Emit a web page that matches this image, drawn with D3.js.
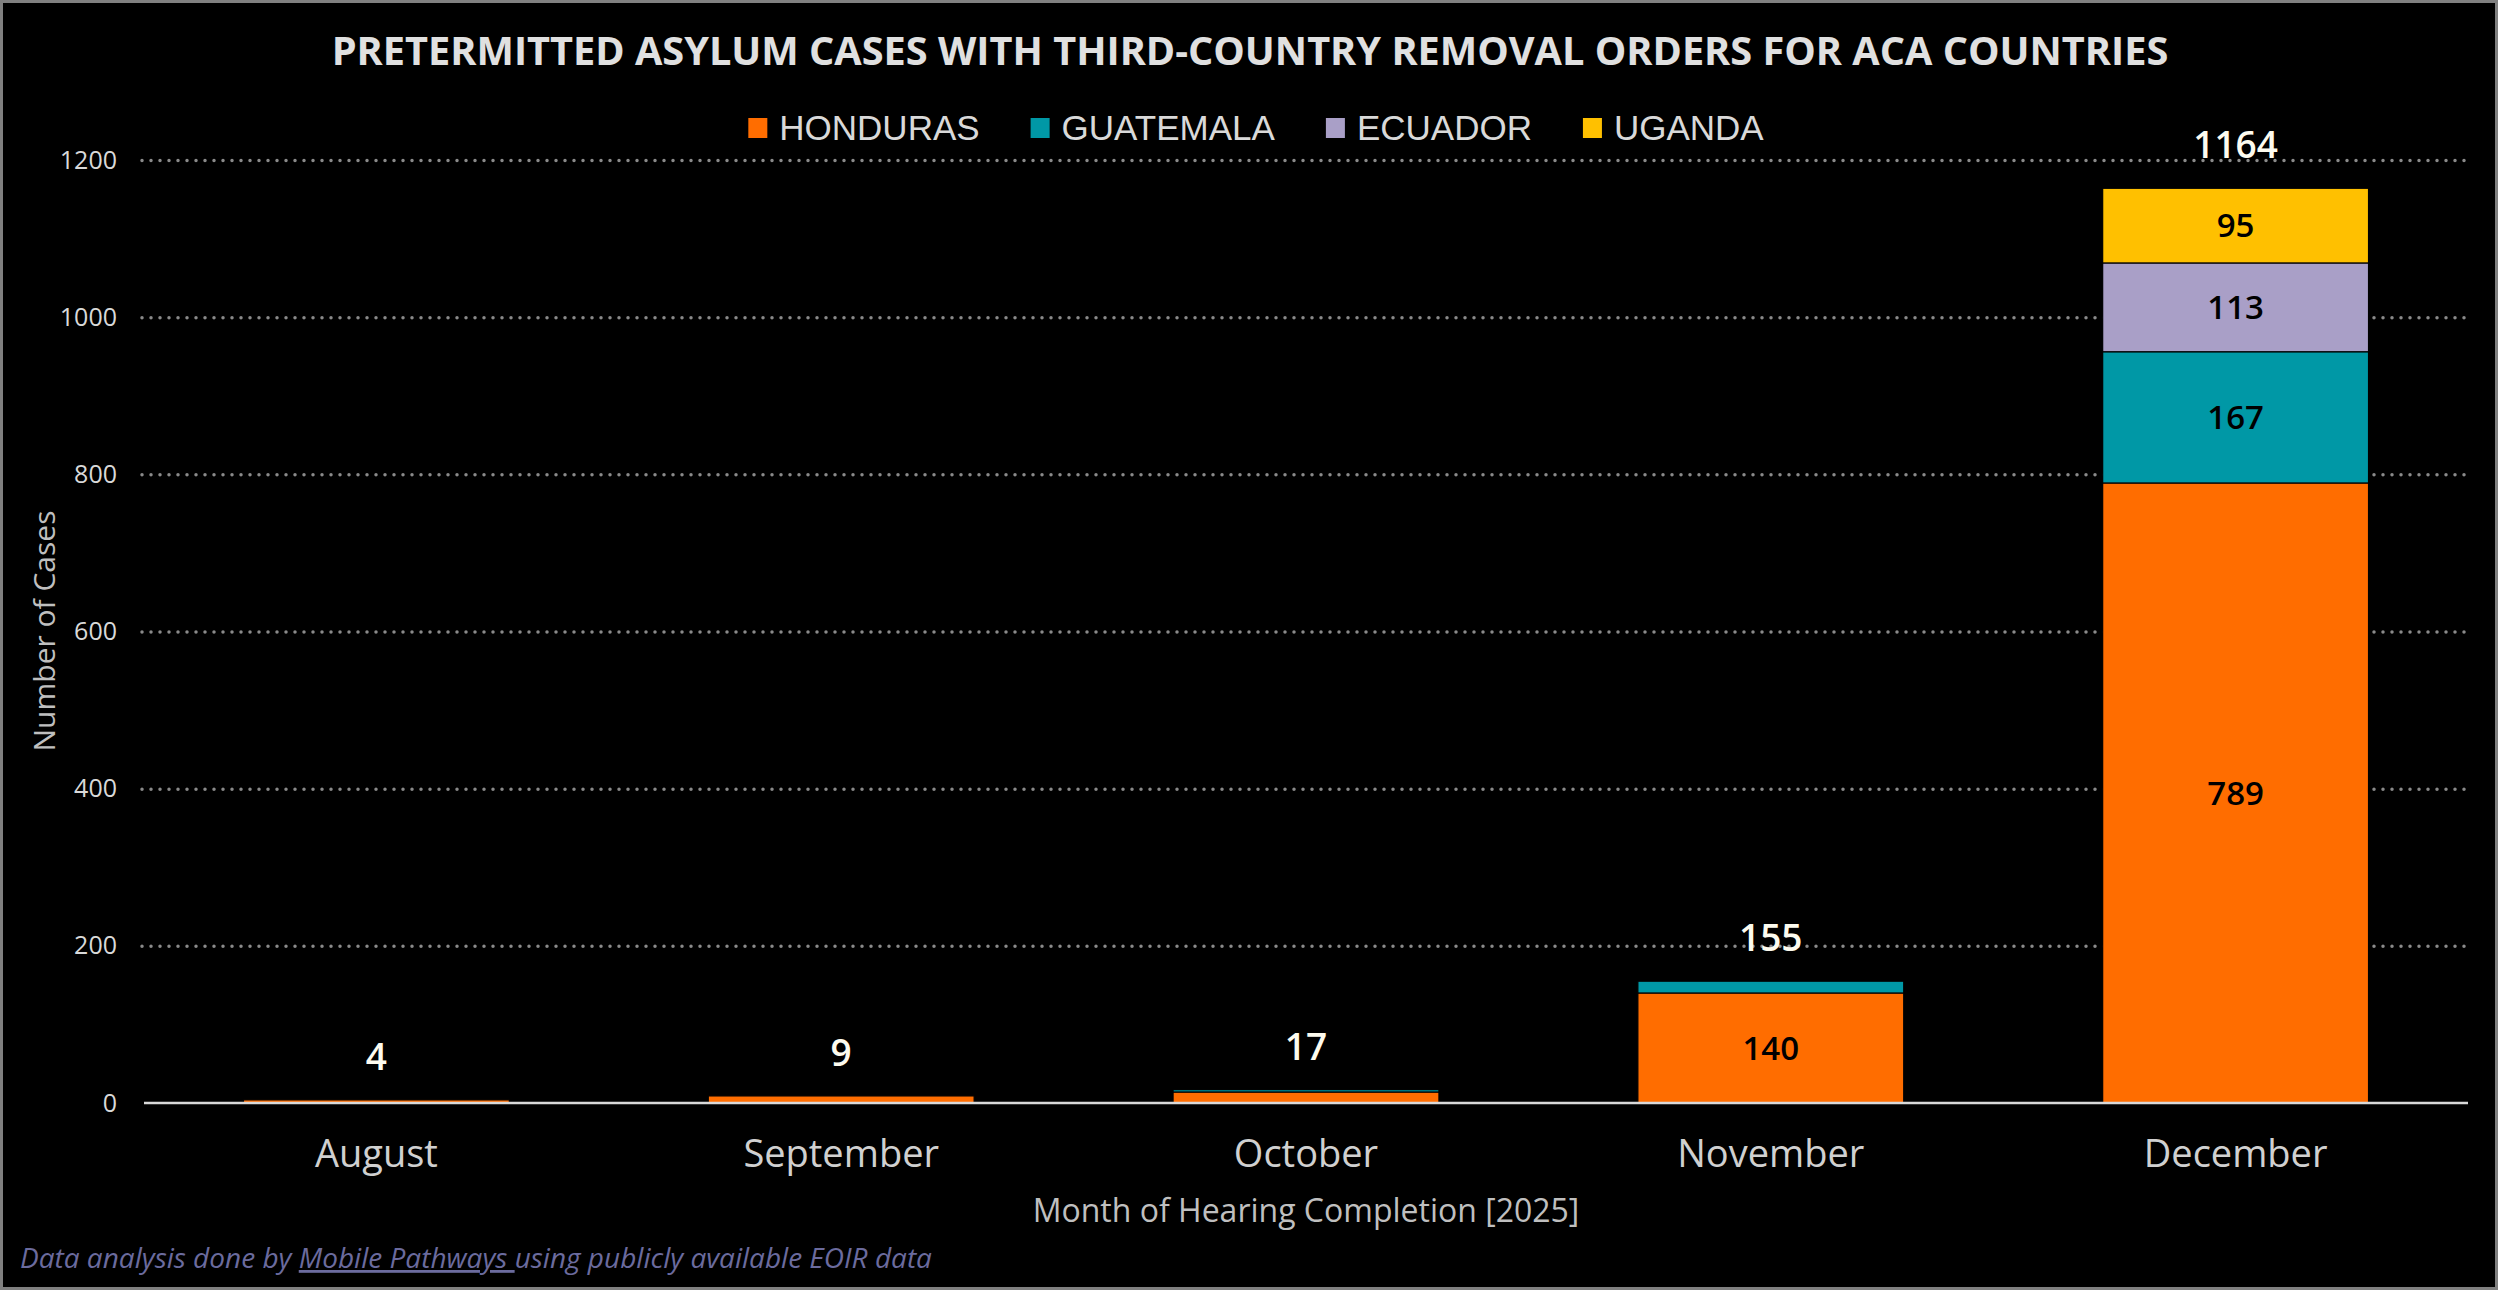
<!DOCTYPE html>
<html>
<head>
<meta charset="utf-8">
<script src="https://cdn.jsdelivr.net/npm/d3@7"></script>
<style>
  body { margin: 0; background: #fff; }
  svg { display: block; }
</style>
</head>
<body>
<script>
// chart values
var months    = ["August", "September", "October", "November", "December"];
var countries = ["HONDURAS", "GUATEMALA", "ECUADOR", "UGANDA"];
var honduras  = [4, 9, 14, 140, 789];
var guatemala = [0, 0, 3, 15, 167];
var ecuador   = [0, 0, 0, 0, 113];
var uganda    = [0, 0, 0, 0, 95];
var colors    = ["#ff6d00", "#0098a6", "#a99fc7", "#ffc000"];
var yTicks    = [0, 200, 400, 600, 800, 1000, 1200];

var title  = "PRETERMITTED ASYLUM CASES WITH THIRD-COUNTRY REMOVAL ORDERS FOR ACA COUNTRIES";
var xTitle = "Month of Hearing Completion [2025]";
var yTitle = "Number of Cases";

var seriesVals = [honduras, guatemala, ecuador, uganda];
var table = months.map(function(m, i) {
  var row = {month: m};
  countries.forEach(function(c, j) { row[c] = seriesVals[j][i]; });
  return row;
});

var width  = 2500,
    height = 1296;

var svg = d3.select("body")
            .append("svg")
            .attr("width", width)
            .attr("height", height);

// frame
svg.append("rect")
   .attr("x", 1.5).attr("y", 1.5)
   .attr("width", 2495).attr("height", 1287)
   .attr("fill", "#000")
   .attr("stroke", "#808080")
   .attr("stroke-width", 3);

var plot = {left: 144, right: 2468, top: 160, bottom: 1103};

var x = d3.scaleBand()
          .domain(months)
          .range([plot.left, plot.right])
          .paddingInner(0.428)
          .paddingOuter(0.214);

var y = d3.scaleLinear()
          .domain([0, 1200])
          .range([plot.bottom, plot.top]);

// dotted gridlines
svg.append("g")
   .attr("class", "grid")
   .attr("transform", "translate(142,0)")
   .call(d3.axisLeft(y).tickValues(yTicks.slice(1)).tickSize(-(2465 - 142)).tickFormat(""))
   .call(function(g) { g.select(".domain").remove(); })
   .selectAll("line")
   .attr("stroke", "#8a8a8a")
   .attr("stroke-width", 3.5)
   .attr("stroke-linecap", "round")
   .attr("stroke-dasharray", "0,9");

// y tick labels
svg.append("g")
   .attr("transform", "translate(117,0)")
   .call(d3.axisLeft(y).tickValues(yTicks).tickSize(0).tickPadding(0).tickFormat(d3.format("d")))
   .call(function(g) { g.select(".domain").remove(); })
   .selectAll("text")
   .attr("fill", "#d9d9d9")
   .style("font-family", "'Open Sans', sans-serif")
   .style("font-size", "25px");

// stacked bars
var stack = d3.stack().keys(countries);
var layers = stack(table);

svg.append("g")
   .selectAll("g")
   .data(layers)
   .enter().append("g")
     .attr("fill", function(d, i) { return colors[i]; })
   .selectAll("rect")
   .data(function(d) { return d.filter(function(s) { return s[1] - s[0] > 0; }); })
   .enter().append("rect")
     .attr("x", function(d) { return x(d.data.month); })
     .attr("y", function(d) { return y(d[1]); })
     .attr("width", x.bandwidth())
     .attr("height", function(d) { return y(d[0]) - y(d[1]); })
     .attr("stroke", "#000")
     .attr("stroke-width", 1.2);

// segment labels
layers.forEach(function(layer) {
  svg.append("g")
     .selectAll("text")
     .data(layer.filter(function(s) { return s[1] - s[0] >= 50; }))
     .enter().append("text")
       .attr("x", function(d) { return x(d.data.month) + x.bandwidth() / 2; })
       .attr("y", function(d) { return (y(d[0]) + y(d[1])) / 2; })
       .attr("dy", "0.36em")
       .attr("text-anchor", "middle")
       .attr("fill", "#000")
       .style("font-family", "'Open Sans', sans-serif")
       .style("font-weight", 600)
       .style("font-size", "33px")
       .text(function(d) { return d[1] - d[0]; });
});

// totals above bars
svg.append("g")
   .selectAll("text")
   .data(table)
   .enter().append("text")
     .attr("x", function(d) { return x(d.month) + x.bandwidth() / 2; })
     .attr("y", function(d) { return y(d3.sum(countries, function(c) { return d[c]; })) - 30; })
     .attr("text-anchor", "middle")
     .attr("fill", "#fdfbef")
     .style("font-family", "'Open Sans', sans-serif")
     .style("font-weight", 600)
     .style("font-size", "37px")
     .text(function(d) { return d3.sum(countries, function(c) { return d[c]; }); });

// x axis baseline + month labels
svg.append("g")
   .attr("transform", "translate(0," + plot.bottom + ")")
   .call(d3.axisBottom(x).tickSize(0).tickPadding(0))
   .call(function(g) {
     g.select(".domain").remove();
     g.selectAll("text")
      .attr("y", 64)
      .attr("dy", 0)
      .attr("fill", "#d0d0d0")
      .style("font-family", "'Open Sans', sans-serif")
      .style("font-size", "38px");
   });

svg.append("line")
   .attr("x1", plot.left).attr("x2", plot.right)
   .attr("y1", y(0)).attr("y2", y(0))
   .attr("stroke", "#d9d9d9")
   .attr("stroke-width", 2.5);

// title
var t = svg.append("text")
   .attr("x", 1250)
   .attr("y", 65)
   .attr("text-anchor", "middle")
   .attr("fill", "#e0e0e0")
   .style("font-family", "'Open Sans', sans-serif")
   .style("font-weight", 700)
   .style("font-size", "40px")
   .text(title);
var tw = t.node().getComputedTextLength();
if (tw > 1837) t.style("font-size", (40 * 1837 / tw) + "px");

// legend
var legend = svg.append("g");
var lx = 0;
countries.forEach(function(c, i) {
  var item = legend.append("g").attr("transform", "translate(" + lx + ",0)");
  item.append("rect")
      .attr("x", 0).attr("y", 118)
      .attr("width", 19).attr("height", 20)
      .attr("fill", colors[i]);
  var txt = item.append("text")
      .attr("x", 31).attr("y", 140)
      .attr("fill", "#d9d9d9")
      .style("font-family", "'Liberation Sans', Arial, sans-serif")
      .style("font-size", "35px")
      .text(c);
  lx += 31 + txt.node().getComputedTextLength() + 51;
});
var legendW = lx - 51;
legend.attr("transform", "translate(" + (1256 - legendW / 2) + ",0)");

// axis titles
svg.append("text")
   .attr("x", (plot.left + plot.right) / 2)
   .attr("y", 1222)
   .attr("text-anchor", "middle")
   .attr("fill", "#bfbfbf")
   .style("font-family", "'Open Sans', sans-serif")
   .style("font-size", "32px")
   .text(xTitle);

svg.append("text")
   .attr("transform", "translate(55,631) rotate(-90)")
   .attr("text-anchor", "middle")
   .attr("fill", "#bfbfbf")
   .style("font-family", "'Open Sans', sans-serif")
   .style("font-size", "30px")
   .text(yTitle);

// footer note
var note = svg.append("text")
   .attr("x", 20)
   .attr("y", 1268)
   .attr("fill", "#6b6b9e")
   .style("font-family", "'Open Sans', sans-serif")
   .style("font-style", "italic")
   .style("font-size", "28px");
note.append("tspan").text("Data analysis done by ");
note.append("tspan").style("text-decoration", "underline").text("Mobile Pathways\u00a0");
note.append("tspan").text("using publicly available EOIR data");
</script>
</body>
</html>
